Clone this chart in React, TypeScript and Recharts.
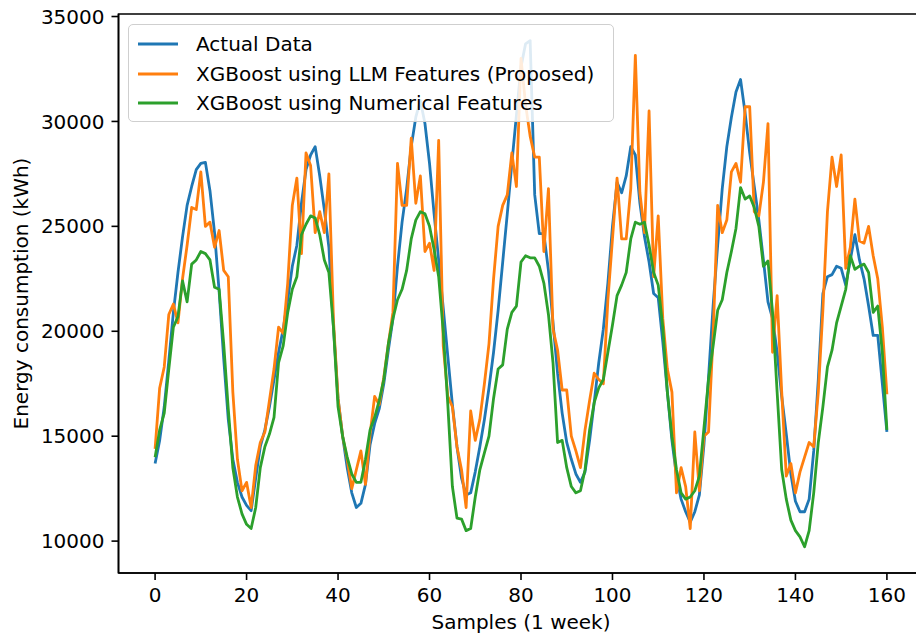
import React from 'react';
import { LineChart, Line, XAxis, YAxis, Legend, ReferenceArea } from 'recharts';

const xTicks = [0, 20, 40, 60, 80, 100, 120, 140, 160];
const yTicks = [10000, 15000, 20000, 25000, 30000, 35000];
const seriesNames = ['Actual Data', 'XGBoost using LLM Features (Proposed)', 'XGBoost using Numerical Features'];
const seriesColors = ['#1f77b4', '#ff7f0e', '#2ca02c'];
const xLabel = 'Samples (1 week)';
const yLabel = 'Energy consumption (kWh)';

const actualData = [
  13700, 14800, 16400, 18600, 20900, 22800, 24500, 26000, 26900, 27700,
  28000, 28050, 26700, 24700, 21900, 18700, 15800, 13900, 12800, 12100,
  11700, 11450, 13000, 14500, 15300, 16400, 17700, 19000, 20100, 21500,
  23100, 24100, 26100, 27700, 28400, 28800, 27400, 25800, 24000, 20200,
  16800, 15000, 13500, 12300, 11600, 11800, 12700, 14600, 15600, 16300,
  17500, 19100, 20600, 23100, 25200, 26800, 28800, 30200, 31000, 29900,
  28000, 25600, 23400, 21100, 18800, 16500, 14500, 13000, 12200, 12300,
  13300, 14500, 15800, 17300, 19000, 21000, 23300, 25600, 28000, 30300,
  32600, 33700, 33850, 26500, 24650, 24650, 22900, 20400, 18000, 16100,
  14700, 13900, 13200, 12800, 13300, 14800, 16600, 18500, 20100, 22300,
  25000, 27100, 26600, 27400, 28800, 28400, 26100, 24500, 23300, 21800,
  21600, 19500, 17100, 14800, 13100, 12000, 11400, 10900, 11400, 12200,
  14600, 17800, 21200, 24100, 26800, 28800, 30200, 31400, 32000, 30400,
  28500, 26900, 25300, 23400, 21400, 20600, 19000, 16900, 15100, 13200,
  11900, 11400, 11400, 12000, 14300, 17700, 21800, 22600, 22700, 23100,
  23000, 22200, 23400, 24600, 23400, 22500, 21200, 19800, 19800, 17500,
  15200,
];

const llmData = [
  14400, 17300, 18300, 20800, 21300, 20400, 22500, 24100, 25900, 25800,
  27600, 25000, 25200, 24000, 24800, 22900, 22600, 17100, 13900, 12400,
  12800, 11600, 13600, 14700, 15200, 16700, 18200, 20200, 19900, 22300,
  26000, 27300, 23700, 28500, 27900, 24700, 25700, 24700, 27500, 20500,
  16800, 15000, 13900, 12500, 13400, 14300, 12700, 15100, 16900, 16500,
  17800, 19400, 20900, 28000, 26000, 26000, 29200, 26100, 27400, 23800,
  24200, 22900, 29100, 19300, 16900, 16400, 14500, 13400, 11600, 16200,
  14800, 15800, 17500, 19400, 22500, 25000, 26000, 26500, 28500, 26900,
  33000, 30800, 29300, 28300, 28300, 23800, 26800, 20100, 19100, 17200,
  17200, 15000, 14300, 13500, 15300, 16700, 18000, 17700, 17500, 21500,
  24400, 27300, 24400, 24400, 26800, 33150, 26600, 24700, 30500, 22600,
  25500, 20600, 18200, 17100, 12300, 13500, 12600, 10600, 15200, 12400,
  15000, 15200, 19800, 26000, 24700, 25300, 27600, 28000, 27100, 30700,
  30700, 25700, 25500, 27100, 29900, 19000, 21700, 17100, 13100, 13700,
  12300, 13300, 14000, 14700, 14500, 17100, 21000, 25700, 28300, 26900,
  28400, 23000, 24000, 26300, 24300, 24200, 25000, 23600, 22500, 20200,
  17000,
];

const numericalData = [
  14000, 15300, 16100, 18200, 20200, 20700, 22400, 21400, 23200, 23400,
  23800, 23700, 23400, 22100, 22000, 19400, 16300, 13500, 12100, 11300,
  10800, 10600, 11600, 13500, 14500, 15100, 15900, 18500, 19300, 20900,
  22000, 22600, 24600, 25100, 25500, 25400, 24600, 23400, 22800, 20200,
  16400, 15000, 14000, 13200, 12800, 12800, 13900, 15300, 15900, 16700,
  17700, 19400, 20600, 21500, 22000, 22900, 24400, 25300, 25700, 25600,
  25000, 23900, 22600, 20000, 16500, 12600, 11100, 11050, 10500, 10600,
  12100, 13400, 14200, 15000, 16800, 18200, 18400, 20100, 20900, 21200,
  23300, 23600, 23500, 23500, 23100, 22300, 20800, 18500, 14700, 14800,
  13500, 12600, 12300, 12400, 13400, 15300, 16600, 17300, 17700, 19000,
  20300, 21700, 22200, 22800, 24400, 25200, 25100, 25200, 24100, 22800,
  22200, 20200, 17100, 15000, 13400, 12300, 12000, 12100, 12400, 13100,
  15400, 17700, 19300, 21000, 21500, 22800, 23800, 24900, 26850, 26300,
  26450, 25900, 25000, 23100, 23350, 20900, 17100, 13400, 12000, 11000,
  10500, 10200, 9730, 10500, 12300, 14700, 16400, 18300, 19100, 20400,
  21200, 22000, 23600, 22950, 23100, 23200, 22800, 20900, 21200, 19000,
  15300,
];

const chartData = actualData.map((v, i) => ({
  sample: i,
  actual: v,
  llm: llmData[i],
  numerical: numericalData[i],
}));

const X_DOMAIN: [number, number] = [-8, 168];
const Y_DOMAIN: [number, number] = [8480, 35120];
const FONT = '"DejaVu Sans", sans-serif';

const LegendBox = () => (
  <div
    style={{
      position: 'relative',
      width: 486,
      height: 98,
      boxSizing: 'border-box',
      border: '1.6px solid #cfcfcf',
      borderRadius: 5,
      background: 'rgba(255,255,255,0.85)',
      fontFamily: FONT,
      fontSize: 20,
      color: '#000',
    }}
  >
    {seriesNames.map((name, i) => (
      <div
        key={name}
        style={{
          position: 'absolute',
          left: 0,
          top: 19 + i * 29.5 - 13,
          height: 26,
          display: 'flex',
          alignItems: 'center',
          whiteSpace: 'nowrap',
        }}
      >
        <svg width={58} height={26} style={{ marginLeft: 0 }}>
          <line x1={9} x2={49} y1={13} y2={13} stroke={seriesColors[i]} strokeWidth={3} />
        </svg>
        <span style={{ marginLeft: 9, lineHeight: '26px' }}>{name}</span>
      </div>
    ))}
  </div>
);

const XLabel = (props: any) => {
  const vb = props.viewBox || {};
  return (
    <text x={vb.x + vb.width / 2} y={vb.y + 56} textAnchor="middle" fontFamily={FONT} fontSize={20} fill="#000">
      {xLabel}
    </text>
  );
};

const YLabel = (props: any) => {
  const vb = props.viewBox || {};
  const cx = 28;
  const cy = vb.y + vb.height / 2;
  return (
    <text x={cx} y={cy} textAnchor="middle" fontFamily={FONT} fontSize={20} fill="#000" transform={`rotate(-90 ${cx} ${cy})`}>
      {yLabel}
    </text>
  );
};

export default function App() {
  return (
    <div style={{ position: 'absolute', left: 0, top: 0, width: 916, height: 640, overflow: 'hidden', background: '#fff' }}>
      <LineChart
        width={924}
        height={640}
        data={chartData}
        margin={{ top: 14, right: 0.5, bottom: 0, left: 0 }}
        style={{ fontFamily: FONT }}
      >
        <XAxis
          dataKey="sample"
          type="number"
          domain={X_DOMAIN}
          ticks={xTicks}
          allowDataOverflow
          height={67}
          tickSize={7}
          tickMargin={8}
          axisLine={{ stroke: '#000', strokeWidth: 1.6 }}
          tickLine={{ stroke: '#000', strokeWidth: 1.6 }}
          tick={{ fill: '#000', fontSize: 20, fontFamily: FONT }}
          interval={0}
          label={<XLabel />}
        />
        <YAxis
          type="number"
          domain={Y_DOMAIN}
          ticks={yTicks}
          allowDataOverflow
          width={118.5}
          tickSize={7}
          tickMargin={7}
          axisLine={{ stroke: '#000', strokeWidth: 1.6 }}
          tickLine={{ stroke: '#000', strokeWidth: 1.6 }}
          tick={{ fill: '#000', fontSize: 20, fontFamily: FONT }}
          interval={0}
          label={<YLabel />}
        />
        <ReferenceArea
          x1={X_DOMAIN[0]}
          x2={X_DOMAIN[1]}
          y1={Y_DOMAIN[0]}
          y2={Y_DOMAIN[1]}
          fill="none"
          fillOpacity={0}
          stroke="#000"
          strokeWidth={1.6}
          ifOverflow="visible"
        />
        <Line type="linear" dataKey="actual" name={seriesNames[0]} stroke={seriesColors[0]} strokeWidth={2.8} dot={false} activeDot={false} isAnimationActive={false} strokeLinejoin="round" />
        <Line type="linear" dataKey="llm" name={seriesNames[1]} stroke={seriesColors[1]} strokeWidth={2.8} dot={false} activeDot={false} isAnimationActive={false} strokeLinejoin="round" />
        <Line type="linear" dataKey="numerical" name={seriesNames[2]} stroke={seriesColors[2]} strokeWidth={2.8} dot={false} activeDot={false} isAnimationActive={false} strokeLinejoin="round" />
        <Legend
          layout="vertical"
          align="center"
          verticalAlign="middle"
          wrapperStyle={{ left: 128, top: 24, width: 486, height: 98 }}
          content={() => <LegendBox />}
        />
      </LineChart>
    </div>
  );
}
